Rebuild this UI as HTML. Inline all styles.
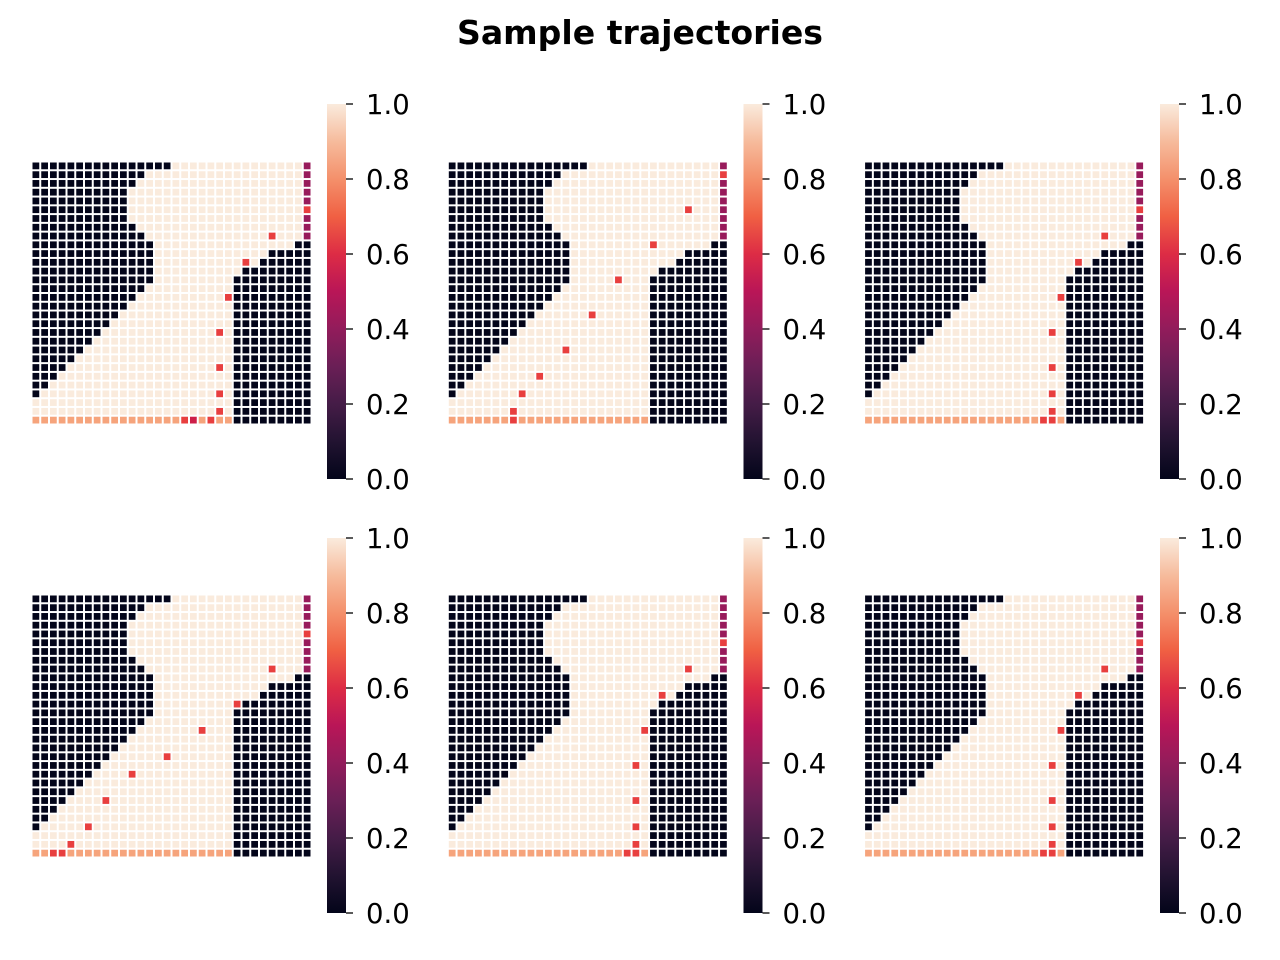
<!DOCTYPE html>
<html><head><meta charset="utf-8"><style>
body{margin:0;background:#fff;}
svg{display:block;font-family:"DejaVu Sans","Liberation Sans",sans-serif;}
</style></head><body>
<svg id="fig" width="1280" height="960" viewBox="0 0 1280 960" xmlns="http://www.w3.org/2000/svg">
<defs>
<linearGradient id="rocket" x1="0" y1="1" x2="0" y2="0">
<stop offset="0" stop-color="#03051A"/><stop offset="0.1" stop-color="#221331"/><stop offset="0.2" stop-color="#451C47"/><stop offset="0.3" stop-color="#6A1F56"/><stop offset="0.4" stop-color="#921C5B"/><stop offset="0.5" stop-color="#B91657"/><stop offset="0.6" stop-color="#DD2C45"/><stop offset="0.7" stop-color="#F06043"/><stop offset="0.8" stop-color="#F4906B"/><stop offset="0.9" stop-color="#F6BB9C"/><stop offset="1" stop-color="#FAEBDD"/>
</linearGradient>
</defs>
<text x="640" y="44" text-anchor="middle" font-size="32.5" font-weight="bold" textLength="366" lengthAdjust="spacingAndGlyphs">Sample trajectories</text>
</svg>
<script>
const leftBlack=[16,13,12,11,11,11,11,12,13,14,14,14,14,14,13,12,11,10,9,8,7,6,5,4,3,2,1,0,0,0];
const rightStart=[32,32,32,32,32,32,32,32,32,30,27,26,24,23,23,23,23,23,23,23,23,23,23,23,23,23,23,23,23,23];
const goalValue=0.42, freeValue=1.0, wallValue=0.0, bottomValue=0.85, visitValue=0.62;
const p1=[[5,31,.62],[8,27,.62],[11,24,.62],[15,22,.62],[19,21,.62],[23,21,.62],[26,21,.62],[28,21,.62],[29,17,.62],[29,18,.55],[29,20,.62]];
const p2=[[1,31,.62],[5,27,.62],[9,23,.62],[13,19,.62],[17,16,.62],[21,13,.62],[24,10,.62],[26,8,.62],[28,7,.62],[29,7,.62]];
const p3=[[5,31,.62],[8,27,.62],[11,24,.62],[15,22,.62],[19,21,.62],[23,21,.62],[26,21,.62],[28,21,.62],[29,20,.62],[29,21,.62]];
const p4=[[4,31,.62],[8,27,.62],[12,23,.62],[15,19,.62],[18,15,.62],[20,11,.62],[23,8,.62],[26,6,.62],[28,4,.62],[29,2,.62],[29,3,.62]];
const p5=p3, p6=p3;
const panelsData=[p1,p2,p3,p4,p5,p6];
const cbTicks=["0.0","0.2","0.4","0.6","0.8","1.0"];

const stops=[[0,[3,5,26]],[.1,[34,19,49]],[.2,[69,28,71]],[.3,[106,31,86]],[.4,[146,28,91]],[.45,[161,26,91]],[.5,[185,22,87]],[.55,[205,30,72]],[.62,[232,63,63]],[.7,[240,96,67]],[.8,[244,144,107]],[.85,[246,164,124]],[.9,[246,187,156]],[1,[250,235,221]]];
function rocket(v){
  for(let i=1;i<stops.length;i++){if(v<=stops[i][0]){const a=stops[i-1],b=stops[i];const t=(v-a[0])/(b[0]-a[0]);const c=a[1].map((x,k)=>Math.round(x+(b[1][k]-x)*t));return `rgb(${c[0]},${c[1]},${c[2]})`;}}
  return 'rgb(250,235,221)';
}
const NS='http://www.w3.org/2000/svg';
const svg=document.getElementById('fig');
function mk(tag,attrs,parent){const e=document.createElementNS(NS,tag);for(const k in attrs)e.setAttribute(k,attrs[k]);(parent||svg).appendChild(e);return e;}
const originsX=[31.5,447.8,864.1], originsY=[161.5,594.5];
const cbX=[327,743.5,1160], cbTop=[104,538], cbH=375;
const W=280,H=263,NC=32,NR=30;
panelsData.forEach((special,pi)=>{
  const ox=originsX[pi%3], oy=originsY[Math.floor(pi/3)];
  const g=mk('g',{});
  
  
  const grid=[];
  for(let r=0;r<NR;r++){const row=[];for(let c=0;c<NC;c++){
    let v=freeValue;
    if(c<leftBlack[r]||c>=rightStart[r])v=wallValue;
    else if(c===31&&r<=8)v=goalValue;
    else if(r===29)v=bottomValue;
    row.push(v);}grid.push(row);}
  special.forEach(s=>{grid[s[0]][s[1]]=s[2];});
  const xs=c=>ox+c*W/NC, ys=r=>oy+r*H/NR;
  for(let r=0;r<NR;r++)for(let c=0;c<NC;c++){
    const rc=mk('rect',{x:(xs(c)+1).toFixed(2),y:(ys(r)+1).toFixed(2),width:(W/NC-2).toFixed(2),height:(H/NR-2).toFixed(2),fill:rocket(grid[r][c])},g);
    
    
  }
  const cx=cbX[pi%3], cy=cbTop[Math.floor(pi/3)];
  const cb=mk('g',{});
  
  
  mk('rect',{x:cx,y:cy,width:19,height:cbH,fill:'url(#rocket)'},cb);
  cbTicks.forEach((t,i)=>{
    const y=cy+cbH-i*cbH/5;
    mk('line',{x1:cx+19,x2:cx+26,y1:y,y2:y,stroke:'#000','stroke-width':1.3},cb);
    const tx=mk('text',{x:cx+39,y:y+10,'font-size':27.5},cb);
    tx.textContent=t;
    
    
  });
});
</script>
</body></html>
